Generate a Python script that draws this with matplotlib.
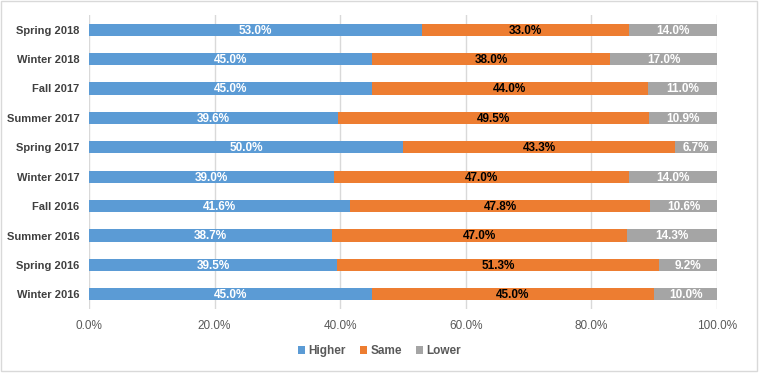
import matplotlib.pyplot as plt
from matplotlib.patches import Rectangle

plt.rcParams['font.family'] = ['Liberation Sans Narrow', 'Liberation Sans', 'DejaVu Sans']

# 数据 (自下而上)
seasons = ['Winter 2016', 'Spring 2016', 'Summer 2016', 'Fall 2016', 'Winter 2017',
           'Spring 2017', 'Summer 2017', 'Fall 2017', 'Winter 2018', 'Spring 2018']
higher = [45.0, 39.5, 38.7, 41.6, 39.0, 50.0, 39.6, 45.0, 45.0, 53.0]
same = [45.0, 51.3, 47.0, 47.8, 47.0, 43.3, 49.5, 44.0, 38.0, 33.0]
lower = [10.0, 9.2, 14.3, 10.6, 14.0, 6.7, 10.9, 11.0, 17.0, 14.0]

fig = plt.figure(figsize=(7.59, 3.73), dpi=100)
ax = fig.add_axes([89 / 759, 1 - 309 / 373, 628 / 759, 294 / 373])

y = range(len(seasons))
h = 0.42
series = [
    ('Higher', higher, '#5B9BD5', 'white'),
    ('Same', same, '#ED7D31', 'black'),
    ('Lower', lower, '#A5A5A5', 'white'),
]
left = [0] * len(seasons)
for name, vals, color, tcolor in series:
    bars = ax.barh(y, vals, left=left, height=h, color=color, label=name, zorder=3)
    for b, v in zip(bars, vals):
        ax.text(b.get_x() + b.get_width() / 2, b.get_y() + h / 2 - 0.03, f'{v:.1f}%',
                ha='center', va='center', color=tcolor, fontsize=8.5,
                fontweight='bold', zorder=4)
    left = [l + v for l, v in zip(left, vals)]

ax.set_xlim(0, 100)
ax.set_ylim(-0.5, len(seasons) - 0.5)
ax.set_xticks([0, 20, 40, 60, 80, 100])
ax.set_xticklabels([f'{t:.1f}%' for t in [0, 20, 40, 60, 80, 100]], color='#595959', fontsize=8.5)
ax.set_yticks(list(y))
ax.set_yticklabels(seasons, color='#404040', fontsize=8, fontweight='bold')
ax.tick_params(axis='y', length=0, pad=7)
ax.tick_params(axis='x', length=0, pad=8)
ax.grid(axis='x', color='#D9D9D9', linewidth=1, zorder=0)
for s in ax.spines.values():
    s.set_visible(False)

leg = fig.legend(loc='center', bbox_to_anchor=(0.5, 1 - 351 / 373), ncol=3, frameon=False,
                 fontsize=8.5, handlelength=0.6, handleheight=0.6, handletextpad=0.3,
                 columnspacing=1.2)
for t in leg.get_texts():
    t.set_color('#595959')
    t.set_fontweight('bold')

fig.patches.append(Rectangle((0.001, 0.006), 0.996, 0.99, transform=fig.transFigure,
                             fill=False, edgecolor='#D9D9D9', linewidth=1))

fig.savefig('out.png', dpi=100)
